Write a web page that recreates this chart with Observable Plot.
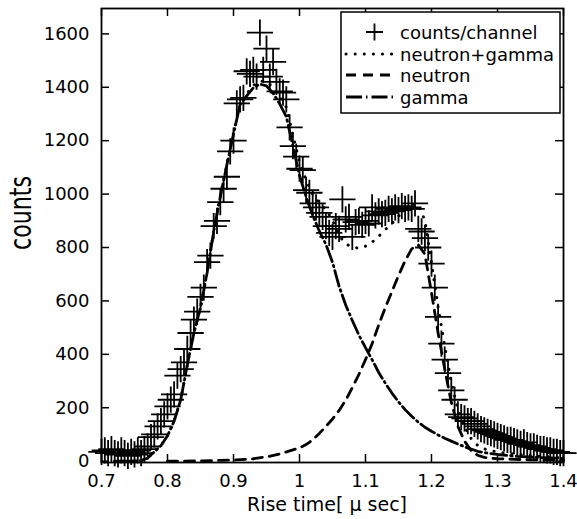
<!DOCTYPE html>
<html><head><meta charset="utf-8">
<script src="https://cdn.jsdelivr.net/npm/d3@7"></script>
<script src="https://cdn.jsdelivr.net/npm/@observablehq/plot@0.6"></script>
<style>body{margin:0;background:#fff} svg{display:block}</style>
</head><body><div id="chart"></div>
<script>
// measured counts per channel
const rise = [0.700,0.705,0.710,0.715,0.720,0.725,0.730,0.735,0.740,0.745,0.750,0.755,0.760,0.765,0.770,0.775,0.780,0.785,0.790,0.795,
0.800,0.805,0.810,0.815,0.820,0.825,0.830,0.835,0.840,0.845,0.850,0.855,0.860,0.865,0.870,0.875,0.880,0.885,0.890,0.895,
0.900,0.905,0.910,0.915,0.920,0.925,0.930,0.935,0.940,0.945,0.950,0.955,0.960,0.965,0.970,0.975,0.980,0.985,0.990,0.995,
1.000,1.005,1.010,1.015,1.020,1.025,1.030,1.035,1.040,1.045,1.050,1.055,1.060,1.065,1.070,1.075,1.080,1.085,1.090,1.095,
1.100,1.105,1.110,1.115,1.120,1.125,1.130,1.135,1.140,1.145,1.150,1.155,1.160,1.165,1.170,1.175,1.180,1.185,1.190,1.195,
1.200,1.205,1.210,1.215,1.220,1.225,1.230,1.235,1.240,1.245,1.250,1.255,1.260,1.265,1.270,1.275,1.280,1.285,1.290,1.295,
1.300,1.305,1.310,1.315,1.320,1.325,1.330,1.335,1.340,1.345,1.350,1.355,1.360,1.365,1.370,1.375,1.380,1.385,1.390,1.395,1.400];
const counts = [35,40,30,45,30,25,40,30,20,35,25,40,30,45,55,90,100,130,150,175,
205,230,250,320,345,370,420,480,530,560,615,650,745,770,880,900,970,1020,1065,1160,
1200,1340,1355,1360,1460,1450,1465,1440,1605,1465,1545,1440,1495,1420,1385,1380,1355,1250,1180,1140,
1095,1090,1015,1005,965,950,930,915,880,855,840,880,870,980,905,915,840,895,900,885,
900,890,950,920,935,925,930,945,935,950,940,955,945,950,945,965,870,860,835,800,
740,650,540,440,380,330,265,230,175,165,160,150,150,140,130,120,115,110,105,100,
95,90,85,80,80,75,70,65,70,60,55,55,50,45,45,40,40,35,35,30,30];

// fitted gamma component
const gammaX = [0.72,0.74,0.76,0.77,0.78,0.79,0.80,0.81,0.82,0.83,0.84,0.85,0.86,0.87,0.88,0.89,0.90,0.91,0.92,0.93,0.94,0.95,0.96,0.97,0.98,0.99,
1.00,1.01,1.02,1.03,1.04,1.05,1.06,1.07,1.08,1.09,1.10,1.11,1.12,1.13,1.14,1.15,1.16,1.17,1.18,1.19,1.20,1.21,1.22,1.23,1.24,1.25,1.26,1.27,1.28,1.30,1.33,1.36,1.40];
const gammaY = [0,0,2,12,35,58,95,150,230,360,480,575,705,860,990,1110,1225,1335,1368,1398,1412,1405,1378,1338,1290,1180,
1070,990,920,862,812,745,655,585,527,472,425,380,332,292,255,222,193,168,146,127,112,98,86,75,64,54,45,37,32,25,18,14,10];

// fitted neutron component
const neutronX = [0.80,0.85,0.90,0.93,0.95,0.97,0.99,1.00,1.01,1.02,1.03,1.04,1.05,1.06,1.07,1.08,1.09,1.10,1.11,1.12,1.13,1.14,1.15,1.16,1.17,1.18,
1.19,1.20,1.21,1.22,1.23,1.24,1.25,1.26,1.27,1.28,1.30,1.35,1.40];
const neutronY = [0,1,4,9,16,27,42,50,62,80,104,130,158,190,228,275,325,380,440,510,575,635,695,750,795,810,
775,630,480,345,220,130,75,40,22,14,9,5,3];

// neutron+gamma fit
const sumX = [0.72,0.74,0.76,0.77,0.78,0.79,0.80,0.81,0.82,0.83,0.84,0.85,0.86,0.87,0.88,0.89,0.90,0.91,0.92,0.93,0.94,0.95,0.96,0.97,0.98,0.99,
1.00,1.01,1.02,1.03,1.04,1.05,1.06,1.07,1.08,1.09,1.10,1.11,1.12,1.13,1.14,1.15,1.16,1.17,1.18,1.19,1.20,1.21,1.22,1.23,1.24,1.25,1.26,1.27,1.28,1.30,1.33,1.36,1.40];
const sumY = [0,0,2,12,35,58,95,150,230,360,480,576,706,862,992,1113,1229,1340,1375,1407,1424,1421,1400,1365,1325,1222,
1120,1052,1000,966,942,903,845,813,802,797,805,820,842,867,890,917,943,963,956,902,742,578,431,295,194,129,85,59,46,34,25,19,13];

const xTicks = [0.7,0.8,0.9,1.0,1.1,1.2,1.3,1.4];
const yTicks = [0,200,400,600,800,1000,1200,1400,1600];
const legendLabels = ["counts/channel","neutron+gamma","neutron","gamma"];

const W = 577, H = 519, mL = 101, mR = 14, mT = 8, mB = 57;
const fw = W - mL - mR, fh = H - mT - mB;
const FONT = "'DejaVu Sans', sans-serif";
const rows = (xs, ys) => xs.map((x, i) => ({x, y: ys[i]}));
const pts = rows(rise, counts);

const DASH_GAMMA = "16,4,1.5,4", DASH_NEUTRON = "10,7", DASH_SUM = "0.1,9";

const plot = Plot.plot({
  width: W, height: H,
  marginLeft: mL, marginRight: mR, marginTop: mT, marginBottom: mB,
  style: {fontFamily: FONT, fontSize: "18px", color: "black", background: "white"},
  x: {domain: [0.7, 1.4]},
  y: {domain: [-5, 1695]},
  marks: [
    Plot.line(rows(gammaX, gammaY), {x: "x", y: "y", stroke: "black", strokeWidth: 2.8, strokeDasharray: DASH_GAMMA}),
    Plot.line(rows(neutronX, neutronY), {x: "x", y: "y", stroke: "black", strokeWidth: 2.8, strokeDasharray: DASH_NEUTRON}),
    Plot.line(rows(sumX, sumY), {x: "x", y: "y", stroke: "black", strokeWidth: 3, strokeDasharray: DASH_SUM, strokeLinecap: "round"}),
    Plot.dot(pts, {x: "x", y: "y", symbol: "plus", r: 8.5, stroke: "black", strokeWidth: 1.8}),
    Plot.tickX(xTicks, {x: d => d, insetTop: fh - 8, stroke: "black", strokeWidth: 1.5}),
    Plot.tickX(xTicks, {x: d => d, insetBottom: fh - 8, stroke: "black", strokeWidth: 1.5}),
    Plot.tickY(yTicks, {y: d => d, insetRight: fw - 8, stroke: "black", strokeWidth: 1.5}),
    Plot.tickY(yTicks, {y: d => d, insetLeft: fw - 8, stroke: "black", strokeWidth: 1.5}),
    Plot.axisX({ticks: xTicks, tickSize: 0, tickPadding: 12, tickFormat: d => String(+d.toFixed(1)), label: null, fontSize: 18}),
    Plot.axisY({ticks: yTicks, tickSize: 0, tickPadding: 12, tickFormat: d => String(d), label: null, fontSize: 18}),
    Plot.frame({stroke: "black", strokeWidth: 1.8})
  ]
});
document.getElementById("chart").appendChild(plot);

const svg = d3.select(plot);
// axis titles
svg.append("text").attr("x", 327).attr("y", 504).attr("text-anchor", "middle").attr("dominant-baseline", "central")
  .attr("font-family", FONT).attr("font-size", 19).attr("fill", "black").text("Rise time[ μ sec]");
svg.append("text").attr("transform", "translate(20,213) rotate(-90)").attr("text-anchor", "middle").attr("dominant-baseline", "central")
  .attr("font-family", FONT).attr("font-size", 31).attr("fill", "black")
  .attr("textLength", 74).attr("lengthAdjust", "spacingAndGlyphs").text("counts");

// legend
const lg = svg.append("g").attr("text-anchor", "start");
lg.append("rect").attr("x", 341).attr("y", 12).attr("width", 219).attr("height", 101)
  .attr("fill", "white").attr("stroke", "black").attr("stroke-width", 1.5);
const ly = [32, 54, 75, 97];
lg.append("path").attr("d", `M366,${ly[0]}H383M374.5,${ly[0]-8.5}V${ly[0]+8.5}`).attr("stroke", "black").attr("stroke-width", 1.8);
const samples = [null, {d: DASH_SUM, w: 3, cap: "round"}, {d: DASH_NEUTRON, w: 2.8, cap: "butt"}, {d: DASH_GAMMA, w: 2.8, cap: "butt"}];
samples.forEach((s, i) => {
  if (!s) return;
  lg.append("line").attr("x1", 346).attr("x2", 396).attr("y1", ly[i]).attr("y2", ly[i])
    .attr("stroke", "black").attr("stroke-width", s.w).attr("stroke-dasharray", s.d).attr("stroke-linecap", s.cap);
});
legendLabels.forEach((t, i) => {
  lg.append("text").attr("x", 400).attr("y", ly[i]).attr("dominant-baseline", "central").attr("text-anchor", "start")
    .attr("font-family", FONT).attr("font-size", 18).attr("fill", "black").text(t);
});
</script>
</body></html>
